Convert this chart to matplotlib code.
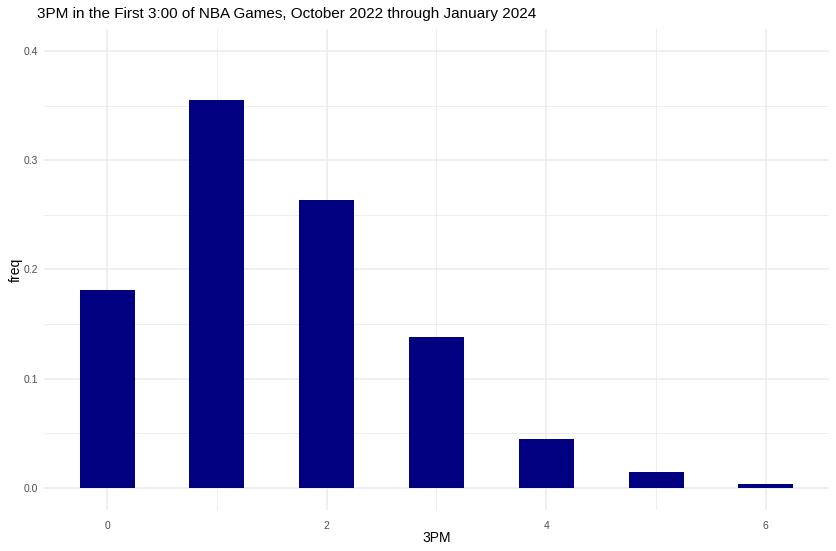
import numpy as np
import matplotlib.pyplot as plt
from matplotlib.ticker import MultipleLocator

# Share of games by 3PM made in the first 3:00
threes = [0, 1, 2, 3, 4, 5, 6]
freq = [0.181, 0.355, 0.264, 0.1385, 0.045, 0.0147, 0.0037]

titleText = "3PM in the First 3:00 of NBA Games, October 2022 through January 2024"

plt.rcParams['font.family'] = ['Liberation Sans', 'DejaVu Sans']

fig = plt.figure(figsize=(8.36, 5.51), dpi=100)
ax = fig.add_axes([44 / 836, 1 - 510 / 551, (829 - 44) / 836, (510 - 29) / 551])

ax.bar(threes, freq, width=0.5, color='#000080', zorder=3)

ax.set_xlim(-0.575, 6.575)
ax.set_ylim(-0.02, 0.42)

ax.xaxis.set_major_locator(MultipleLocator(2))
ax.xaxis.set_minor_locator(MultipleLocator(1))
ax.yaxis.set_major_locator(MultipleLocator(0.1))
ax.yaxis.set_minor_locator(MultipleLocator(0.05))
ax.yaxis.set_major_formatter(plt.FuncFormatter(lambda v, p: f"{v:.1f}"))

ax.grid(which='major', color='#EBEBEB', linewidth=1.1, zorder=0)
ax.grid(which='minor', color='#EBEBEB', linewidth=0.6, zorder=0)
for s in ax.spines.values():
    s.set_visible(False)
ax.tick_params(which='both', length=0)
ax.tick_params(axis='both', labelsize=7.5, labelcolor='#4D4D4D', pad=4)
ax.tick_params(axis='x', pad=8)

ax.set_xlabel("3PM", fontsize=10, color='black', labelpad=0)
ax.set_ylabel("freq", fontsize=10, color='black', labelpad=1)

fig.text(37 / 836, 1 - 14 / 551, titleText, fontsize=11, ha='left', va='center')

fig.savefig("out.png", dpi=100)
